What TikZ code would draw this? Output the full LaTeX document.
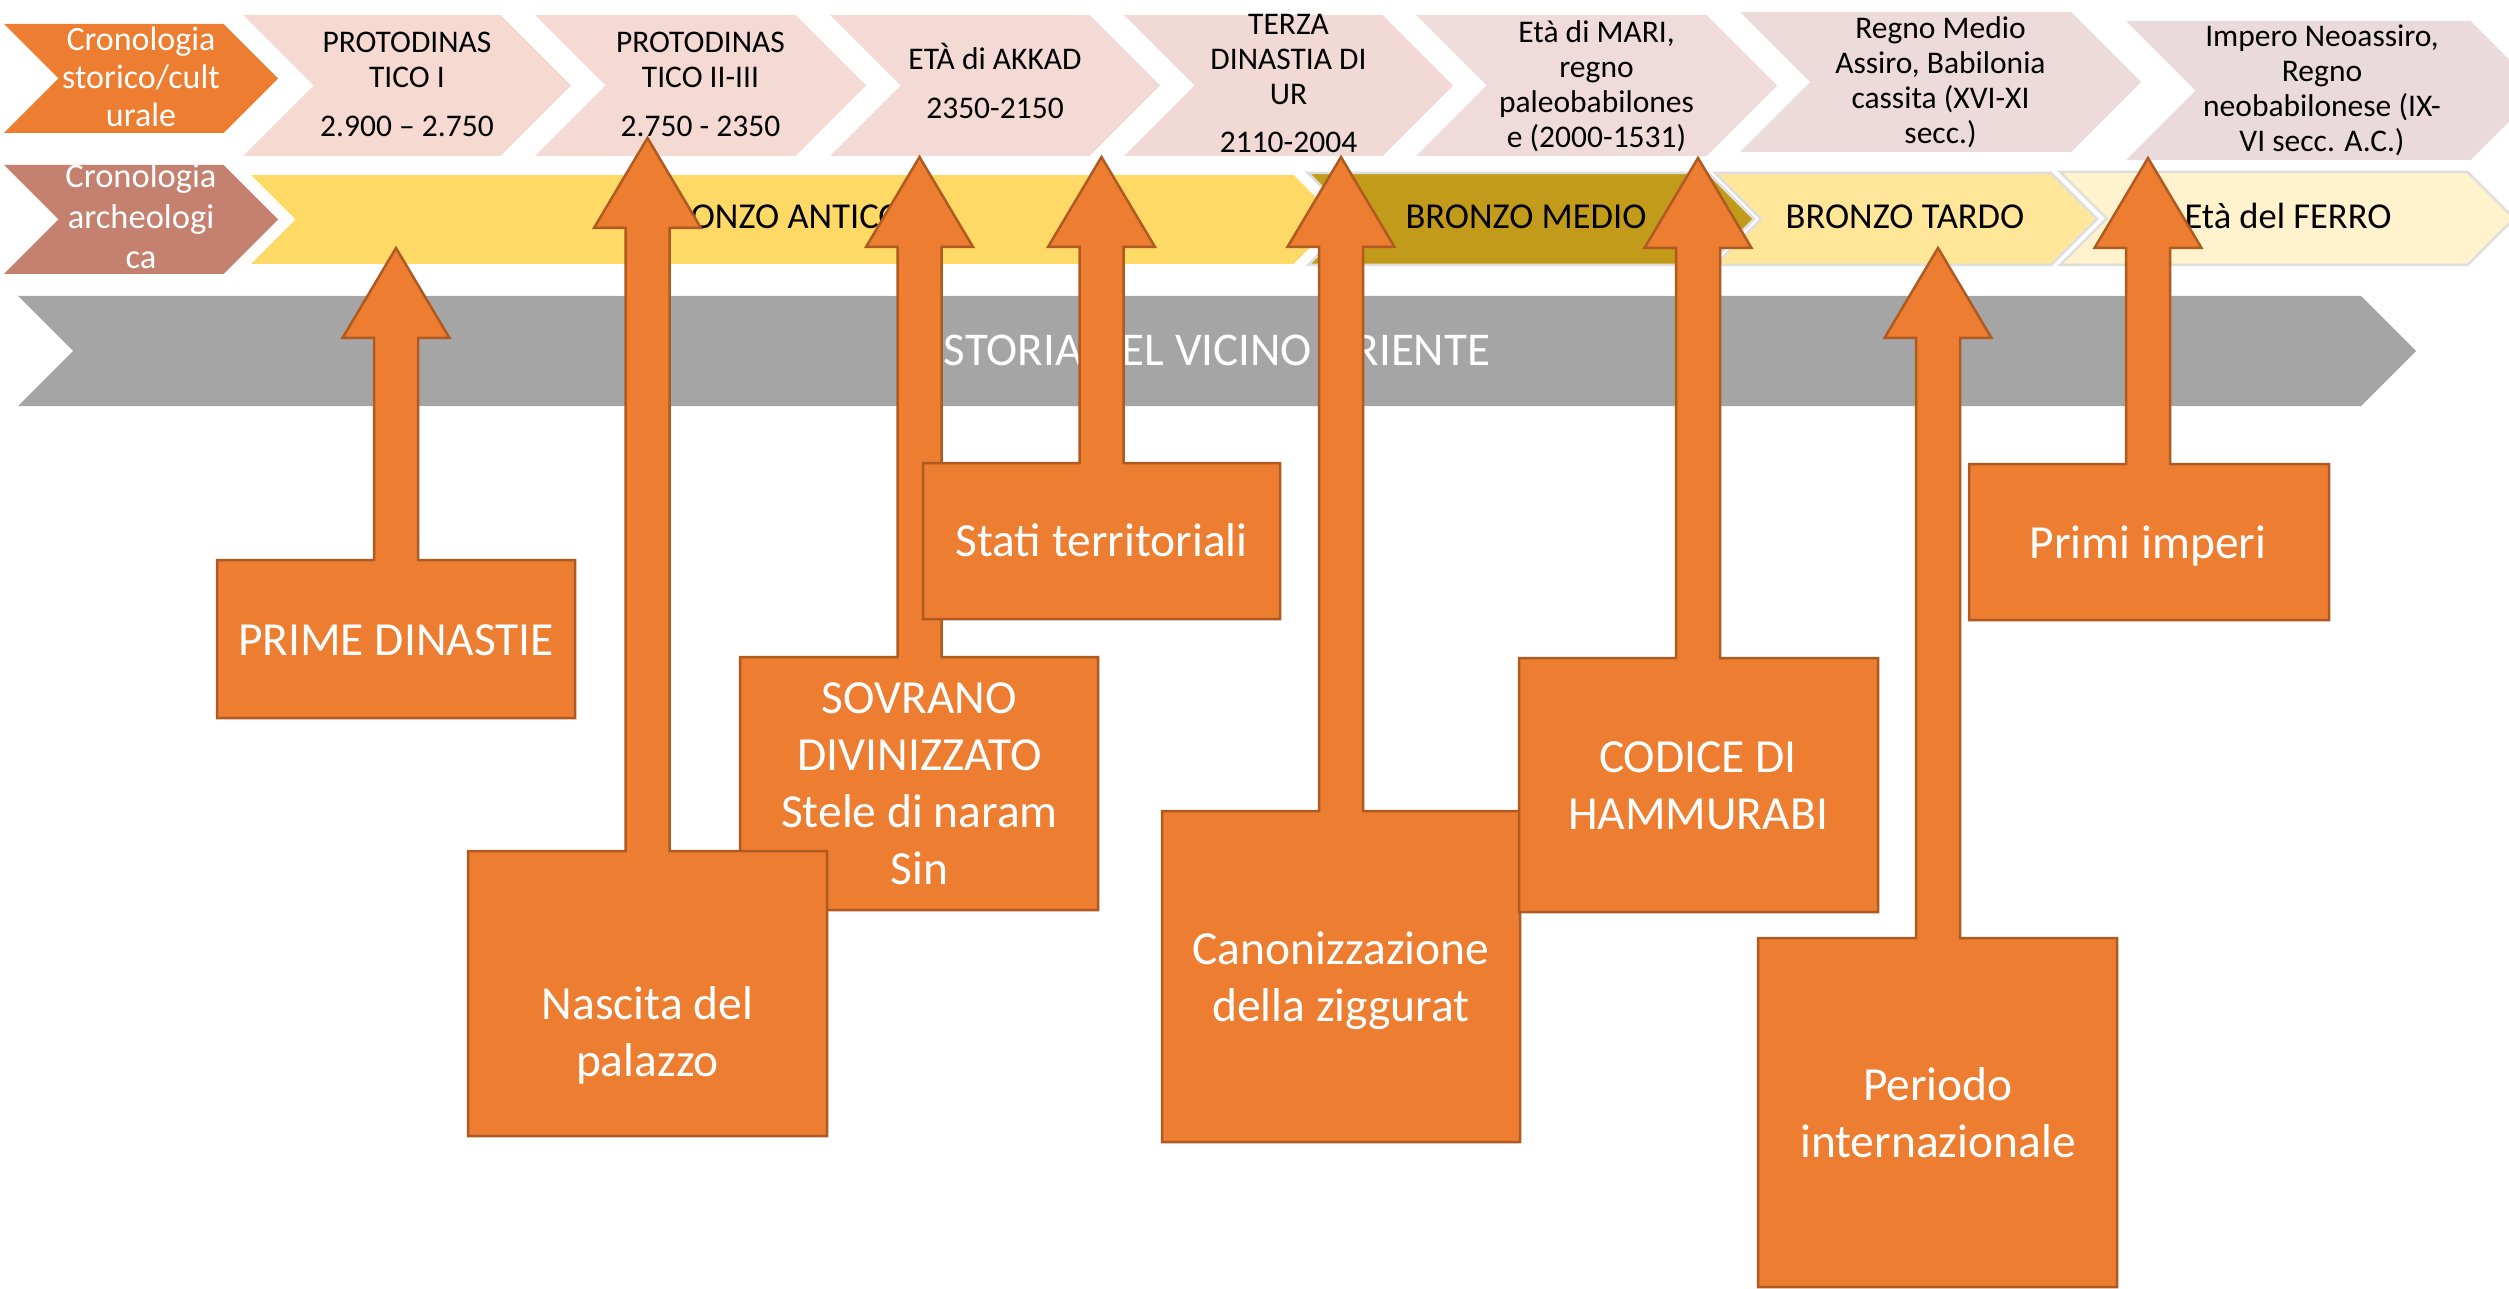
\documentclass[tikz,border=0pt]{standalone}
\usepackage{fontspec}
\setmainfont{Carlito}
\usetikzlibrary{calc}
\definecolor{cOr}{HTML}{ED7D31}
\definecolor{cOrLine}{HTML}{AE5A21}
\definecolor{cArch}{HTML}{C48170}
\definecolor{cPkA}{HTML}{F6DAD2}
\definecolor{cPkB}{HTML}{F5DAD3}
\definecolor{cPkC}{HTML}{F4DAD4}
\definecolor{cPkD}{HTML}{F1DAD6}
\definecolor{cPkE}{HTML}{EFDBD9}
\definecolor{cPkF}{HTML}{EDDADA}
\definecolor{cPkG}{HTML}{EBDADC}
\definecolor{cYA}{HTML}{FFD966}
\definecolor{cYB}{HTML}{C39B1B}
\definecolor{cYC}{HTML}{FFE699}
\definecolor{cYD}{HTML}{FFF2CC}
\definecolor{cGr}{HTML}{A5A5A5}
\definecolor{cBord}{HTML}{DEDEDE}
\tikzset{
  callshape/.style={fill=cOr, draw=cOrLine, line width=2.5pt},
  cbox/.style={rectangle, inner sep=0pt, outer sep=0pt},
  ctext/.style={text=white, font=\fontsize{47.5}{57}\selectfont, align=center, inner sep=0pt},
  ttext/.style={text=black, font=\fontsize{31.5}{35}\selectfont, align=center, inner sep=0pt},
  wtexta/.style={text=white, font=\fontsize{34}{38}\selectfont, align=center, inner sep=0pt},
  wtextb/.style={text=white, font=\fontsize{34.5}{40.5}\selectfont, align=center, inner sep=0pt},
  btext/.style={text=black, font=\fontsize{36.5}{44}\selectfont, inner sep=0pt},
  gtext/.style={text=white, font=\fontsize{47}{57}\selectfont, inner sep=0pt},
  bordered/.style={draw=cBord, line width=2.5pt}
}
% chevron: #1 style, #2 left, #3 tip, #4 top, #5 bottom
\newcommand\chev[5]{%
  \path[#1] (#2,#4) -- ({#3-(#5-#4)/2},#4) -- (#3,{(#4+#5)/2}) -- ({#3-(#5-#4)/2},#5) -- (#2,#5) -- ({#2+(#5-#4)/2},{(#4+#5)/2}) -- cycle;}
% callout: #1 name, #2 L, #3 R, #4 T, #5 B, #6 arrow x, #7 tip y, #8 text y, #9 text
\newcommand\callout[9]{%
  \node[cbox, minimum width={#3-#2}, minimum height={#5-#4}] (#1) at ({(#2+#3)/2},{(#4+#5)/2}) {};
  \coordinate (#1-tip) at (#6,#7);
  \path[callshape] (#1.north west) -- ({#6-22},#4) -- ({#6-22},{#7+90}) -- ({#6-53.5},{#7+90}) -- (#1-tip) -- ({#6+53.5},{#7+90}) -- ({#6+22},{#7+90}) -- ({#6+22},#4) -- (#1.north east) -- (#1.south east) -- (#1.south west) -- cycle;
  \node[ctext] (#1-label) at (#6,#8) {#9};}
\begin{document}
\begin{tikzpicture}[x=1pt,y=-1pt]
\useasboundingbox (0,0) rectangle (2509,1289);
\clip (0,0) rectangle (2509,1289);
% row 1
\chev{fill=cOr}{4}{278}{24}{133}
\chev{fill=cPkA}{243}{571}{15}{156}
\chev{fill=cPkB}{535}{866}{15}{156}
\chev{fill=cPkC}{830}{1160}{15}{156}
\chev{fill=cPkD}{1124}{1453}{15}{156}
\chev{fill=cPkE}{1416}{1777}{15}{156}
\chev{fill=cPkF}{1740}{2141}{12}{152}
\chev{fill=cPkG}{2126}{2540}{21}{160}
\node[wtexta] (cst) at (141,81.4) {\strut Cronologia\\\strut storico/cult\\\strut urale};
\node[ttext] (p1) at (407,88) {\strut PROTODINAS\\\strut TICO I\\[14pt]\strut 2.900 – 2.750};
\node[ttext] (p2) at (700.5,87.5) {\strut PROTODINAS\\\strut TICO II-III\\[14pt]\strut 2.750 - 2350};
\node[ttext] (akkad) at (995,86.5) {\strut ETÀ di AKKAD\\[14pt]\strut 2350-2150};
\node[ttext] (terza) at (1288.5,86.5) {\strut TERZA\\\strut DINASTIA DI\\\strut UR\\[13pt]\strut 2110-2004};
\node[ttext] (mari) at (1596.5,88.5) {\strut Età di MARI,\\\strut regno\\\strut paleobabilones\\\strut e (2000-1531)};
\node[ttext] (regno) at (1940.5,84) {\strut Regno Medio\\\strut Assiro, Babilonia\\\strut cassita (XVI-XI\\\strut secc.)};
\node[ttext] (impero) at (2322,92) {\strut Impero Neoassiro,\\\strut Regno\\\strut neobabilonese (IX-\\\strut VI secc. A.C.)};
% row 2
\chev{fill=cArch}{4}{278}{165}{274}
\chev{fill=cYA}{251}{1338}{175}{264}
\chev{fill=cYB, bordered}{1308}{1754}{173}{265}
\chev{fill=cYC, bordered}{1715}{2097}{173}{265}
\chev{fill=cYD, bordered}{2060}{2514}{172}{265}
\node[wtextb] (car) at (141,220.4) {\strut Cronologia\\\strut archeologi\\\strut ca};
\node[btext] (antico) at (777,220) {\strut BRONZO ANTICO};
\node[btext] (medio) at (1526,220) {\strut BRONZO MEDIO};
\node[btext] (tardo) at (1905,220) {\strut BRONZO TARDO};
\node[btext] (ferro) at (2288,220) {\strut Età del FERRO};
% grey band
\chev{fill=cGr}{18}{2416}{296}{406}
\node[gtext] (storia) at (1217,353.6) {\strut STORIA DEL VICINO ORIENTE};
% callouts
\callout{prime}{217}{575}{560}{718}{396}{248}{643.6}{\strut PRIME DINASTIE}
\callout{sovrano}{740}{1098}{657}{910}{919.5}{157}{788}{\strut SOVRANO\\\strut DIVINIZZATO\\\strut Stele di naram\\\strut Sin}
\callout{stati}{923}{1280}{463}{619}{1101.5}{157}{544.6}{\strut Stati territoriali}
\callout{nascita}{468}{827}{851}{1136}{647.5}{138}{1036.6}{\strut Nascita del\\\strut palazzo}
\callout{canon}{1162}{1520}{811}{1142}{1341}{157}{981.6}{\strut Canonizzazione\\\strut della ziggurat}
\callout{codice}{1519}{1878}{658}{912}{1698}{158}{790}{\strut CODICE DI\\\strut HAMMURABI}
\callout{periodo}{1758}{2117}{938}{1287}{1938}{248}{1118}{\strut Periodo\\\strut internazionale}
\callout{primi}{1969}{2329}{464}{620}{2148}{158}{546.6}{\strut Primi imperi}
\end{tikzpicture}
\end{document}
